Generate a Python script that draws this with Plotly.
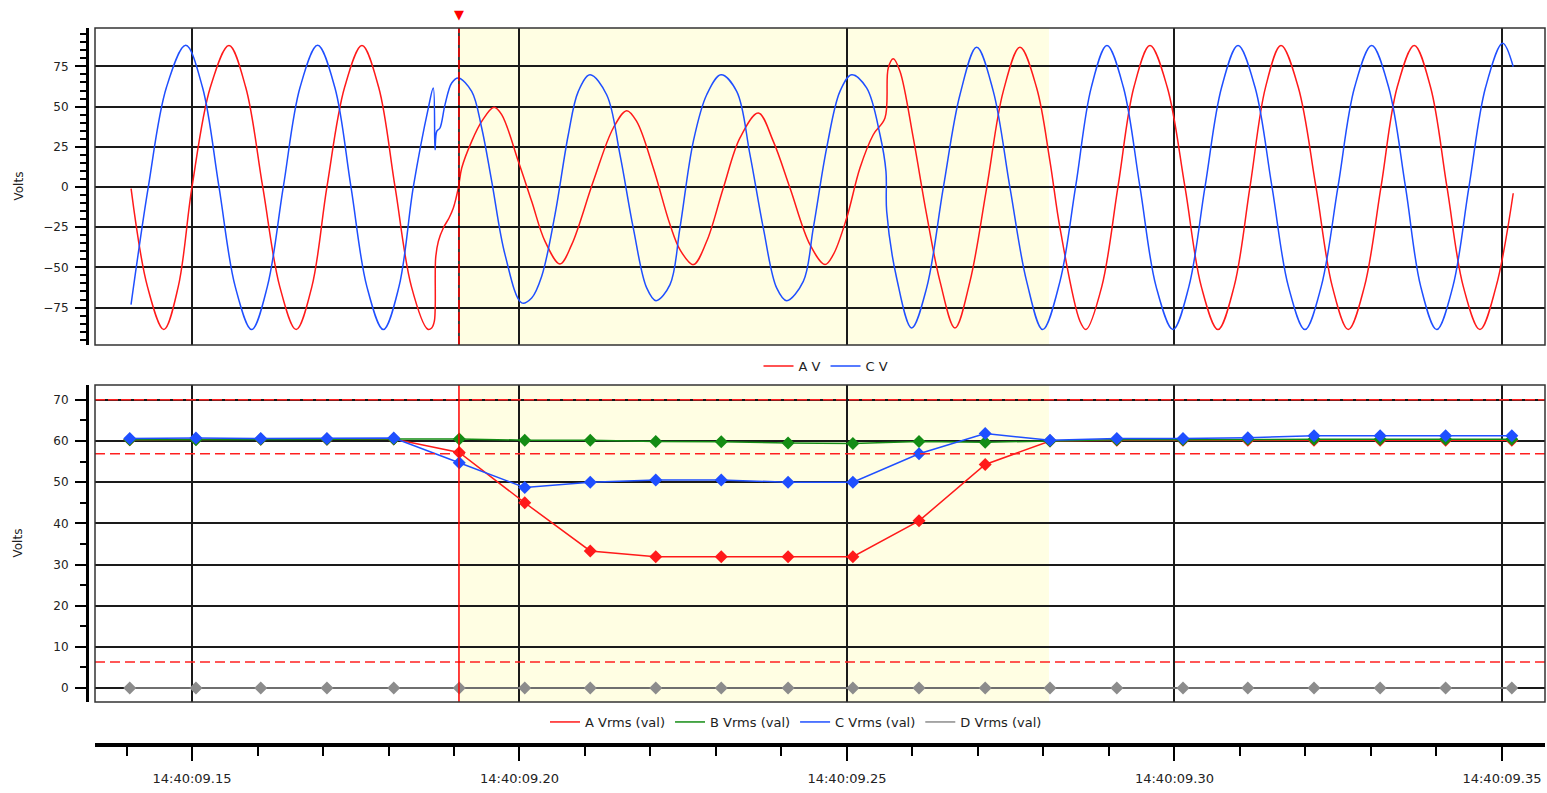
import numpy as np
import pandas as pd
import plotly.graph_objects as go

# ---------------- data (time in ms after 14:40:09.000) ----------------
av_t = [140.7, 143.2, 145.7, 147.9, 150.0, 152.8, 155.65, 158.2, 160.8, 163.4, 165.9, 168.3,
        170.6, 173.3, 175.95, 178.5, 181.0, 183.5, 186.0, 186.59, 187.0, 187.2, 187.61, 188.37,
        189.24, 189.9, 190.66, 191.18, 192.7, 194.23, 196.11, 197.28, 199.82, 201.86, 203.9,
        206.18, 207.97, 211.27, 214.32, 216.37, 217.89, 220.43, 222.98, 224.5, 226.54, 228.58,
        231.12, 233.66, 236.46, 238.75, 241.3, 244.35, 246.64, 247.91, 249.95, 251.98, 254.01,
        255.8, 256.3, 257.07, 258.09, 260.12, 262.16, 264.2, 266.49, 268.78, 271.33, 273.86,
        276.41, 278.96, 280.99, 282.52, 285.57, 286.49, 288.9, 291.37, 293.8, 296.26, 298.9,
        301.6, 304.1, 306.64, 309.1, 311.53, 313.9, 316.26, 318.9, 321.6, 324.1, 326.54, 329.0,
        331.53, 334.0, 336.61, 339.1, 341.6, 344.1, 346.64, 349.1, 351.72]
av_v = [-1.0, -62.0, -88.7, -62.0, 0.0, 62.0, 88.0, 62.0, 0.0, -62.0, -88.7, -62.0,
        0.0, 62.0, 88.0, 62.0, 0.0, -62.0, -88.5, -87.7, -83.5, -44.2, -33.8, -25.5,
        -19.3, -13.1, -0.6, 11.8, 28.4, 40.8, 49.6, 45.0, 16.0, -8.9, -33.8,
        -47.9, -35.9, 3.5, 36.7, 47.5, 40.8, 11.8, -23.4, -39.0, -48.3, -33.8,
        -0.6, 30.5, 46.0, 28.4, -0.6, -35.9, -48.3, -42.1, -19.3, 11.8, 32.5,
        42.9, 74.0, 79.8, 72.0, 30.5, -17.2, -58.7, -87.7, -58.7, -0.6, 59.5,
        86.9, 61.6, 16.0, -25.5, -83.5, -88.7, -62.0, 0.0, 62.0, 88.0, 62.0,
        0.0, -62.0, -88.7, -62.0, 0.0, 62.0, 88.0, 62.0, 0.0, -62.0, -88.7, -62.0,
        0.0, 62.0, 88.0, 62.0, 0.0, -62.0, -88.7, -62.0, -3.9]

cv_t = [140.69, 143.33, 146.1, 149.04, 151.6, 154.12, 156.6, 159.11, 161.5, 163.94, 166.5,
        169.18, 171.8, 174.27, 176.7, 179.21, 181.6, 183.79, 186.08, 186.84, 187.1, 187.36,
        187.86, 188.63, 189.65, 190.66, 192.7, 194.23, 195.76, 197.79, 200.34, 201.86, 203.39,
        205.42, 207.45, 208.98, 210.76, 213.31, 215.34, 217.37, 219.42, 220.84, 222.98, 224.5,
        226.54, 228.58, 230.76, 233.16, 235.19, 237.22, 239.26, 240.79, 243.33, 244.86, 246.9,
        248.93, 250.71, 253.0, 255.04, 255.95, 256.06, 257.58, 259.87, 262.16, 264.7, 267.25,
        269.8, 272.34, 274.89, 277.43, 279.88, 282.52, 284.9, 287.3, 289.69, 292.2, 294.73,
        297.2, 299.77, 302.2, 304.66, 307.2, 309.7, 312.3, 314.89, 317.4, 319.92, 322.4, 324.96,
        327.5, 330.11, 332.7, 335.27, 337.6, 340.03, 342.5, 344.96, 347.5, 350.11, 351.72]
cv_v = [-73.2, 0.0, 62.0, 88.1, 62.0, 0.0, -62.0, -88.7, -62.0, 0.0, 62.0,
        88.1, 62.0, 0.0, -62.0, -88.7, -62.0, 0.0, 49.1, 61.6, 23.2, 34.6,
        36.7, 51.2, 64.7, 67.8, 59.5, 36.7, 3.5, -42.1, -72.1, -69.0, -55.5,
        -17.2, 32.5, 59.5, 69.8, 57.4, 20.1, -25.5, -62.8, -70.7, -60.7, -25.5,
        28.4, 57.4, 69.8, 59.5, 20.1, -25.5, -62.8, -70.7, -58.7, -25.5, 24.3,
        59.5, 69.8, 61.6, 32.5, 9.8, -15.1, -56.6, -87.7, -62.8, -0.6, 57.4,
        86.9, 59.5, -0.6, -58.7, -88.7, -58.7, 0.0, 62.0, 88.0, 62.0, 0.0,
        -62.0, -88.7, -62.0, 0.0, 62.0, 88.0, 62.0, 0.0, -62.0, -88.7, -62.0, 0.0,
        62.0, 88.0, 62.0, 0.0, -62.0, -88.7, -62.0, 0.0, 62.0, 89.4, 74.8]

rms_t = [140.5, 150.6, 160.5, 170.6, 180.8, 190.8, 200.8, 210.8, 220.8, 230.8, 241.0,
         250.9, 261.0, 271.1, 281.0, 291.2, 301.3, 311.2, 321.3, 331.4, 341.4, 351.5]
a_rms = [60.3, 60.4, 60.4, 60.4, 60.5, 57.2, 45.0, 33.3, 31.9, 31.9, 31.9,
         31.9, 40.6, 54.3, 60.0, 60.2, 60.2, 60.2, 60.2, 60.2, 60.2, 60.2]
b_rms = [60.3, 60.3, 60.4, 60.4, 60.5, 60.5, 60.2, 60.2, 59.9, 59.8, 59.5,
         59.4, 59.9, 59.7, 60.0, 60.3, 60.3, 60.4, 60.4, 60.4, 60.4, 60.4]
c_rms = [60.6, 60.7, 60.6, 60.6, 60.7, 54.7, 48.7, 50.0, 50.5, 50.5, 50.0,
         50.0, 56.9, 61.8, 60.2, 60.6, 60.6, 60.8, 61.3, 61.3, 61.3, 61.3]
d_rms = [0.0] * 22

limit_lines = [70.0, 56.9, 6.3]
event_start_ms = 190.76
event_end_ms = 280.84
x_range_ms = [135.19, 356.57]

tick_ms = [150, 200, 250, 300, 350]
tick_labels = ["14:40:09.15", "14:40:09.20", "14:40:09.25", "14:40:09.30", "14:40:09.35"]

# ---------------- helpers ----------------
BASE = pd.Timestamp("2024-01-01 14:40:09")


def ts(ms):
    return BASE + pd.to_timedelta(np.asarray(ms, dtype=float), unit="ms")


def tstr(ms):
    return (BASE + pd.to_timedelta(float(ms), unit="ms")).strftime("%Y-%m-%d %H:%M:%S.%f")


W, H = 1547, 793
xdom = [95 / W, 1545 / W]
ydom_top = [1 - 345 / H, 1 - 28 / H]
ydom_bot = [1 - 702 / H, 1 - 385 / H]
GRID = "#1a1a1a"
FONT = dict(family="DejaVu Sans", size=12, color="#222222")
FONT13 = dict(family="DejaVu Sans", size=13, color="#222222")

fig = go.Figure()

# top waveforms
fig.add_trace(go.Scatter(x=ts(av_t), y=av_v, mode="lines", line=dict(color="#ff1a1a", width=1.5, shape="spline", smoothing=1.0),
                         xaxis="x", yaxis="y", showlegend=False, hoverinfo="skip"))
fig.add_trace(go.Scatter(x=ts(cv_t), y=cv_v, mode="lines", line=dict(color="#1f4fff", width=1.5, shape="spline", smoothing=1.0),
                         xaxis="x", yaxis="y", showlegend=False, hoverinfo="skip"))

# bottom rms
rms_series = [("D Vrms (val)", d_rms, "#8c8c8c"), ("A Vrms (val)", a_rms, "#ff1a1a"),
              ("B Vrms (val)", b_rms, "#148c14"), ("C Vrms (val)", c_rms, "#1f4fff")]
for name, vals, col in rms_series:
    fig.add_trace(go.Scatter(x=ts(rms_t), y=vals, mode="lines+markers", name=name,
                             line=dict(color=col, width=1.5),
                             marker=dict(symbol="diamond", size=10, color=col),
                             xaxis="x2", yaxis="y2", showlegend=False, hoverinfo="skip"))

# legend entries
for name, col in [("A V", "#ff1a1a"), ("C V", "#1f4fff")]:
    fig.add_trace(go.Scatter(x=[None], y=[None], mode="lines", name=name, line=dict(color=col, width=1.5),
                             xaxis="x", yaxis="y", legend="legend"))
for name, col in [("A Vrms (val)", "#ff1a1a"), ("B Vrms (val)", "#148c14"),
                  ("C Vrms (val)", "#1f4fff"), ("D Vrms (val)", "#8c8c8c")]:
    fig.add_trace(go.Scatter(x=[None], y=[None], mode="lines", name=name, line=dict(color=col, width=1.5),
                             xaxis="x2", yaxis="y2", legend="legend2"))

shapes = []
# event shading
for xr_, yr in [("x", "y domain"), ("x2", "y2 domain")]:
    shapes.append(dict(type="rect", xref=xr_, yref=yr, x0=tstr(event_start_ms), x1=tstr(event_end_ms),
                       y0=0, y1=1, fillcolor="#fffee3", line=dict(width=0), layer="below"))
# limit lines
for v in limit_lines:
    shapes.append(dict(type="line", xref="x2 domain", yref="y2", x0=0, x1=1, y0=v, y1=v,
                       line=dict(color="#ff2020", width=1.5, dash="10px,3px" if v >= 70 else "10px,5px")))
# cursor lines
shapes.append(dict(type="line", xref="x", yref="y domain", x0=tstr(event_start_ms), x1=tstr(event_start_ms),
                   y0=0, y1=1, line=dict(color="#000000", width=1.5)))
shapes.append(dict(type="line", xref="x", yref="y domain", x0=tstr(event_start_ms), x1=tstr(event_start_ms),
                   y0=0, y1=1, line=dict(color="#ff0000", width=1.5, dash="9px,3px")))
shapes.append(dict(type="line", xref="x2", yref="y2 domain", x0=tstr(event_start_ms), x1=tstr(event_start_ms),
                   y0=0, y1=1, line=dict(color="#ff0000", width=1.5)))
# frames
for xr_, yr in [("x domain", "y domain"), ("x2 domain", "y2 domain")]:
    shapes.append(dict(type="rect", xref=xr_, yref=yr, x0=0, x1=1, y0=0, y1=1,
                       line=dict(color="#333333", width=1.5), fillcolor="rgba(0,0,0,0)", layer="above"))

xr = [tstr(x_range_ms[0]), tstr(x_range_ms[1])]
common_x = dict(type="date", range=xr, domain=xdom, tickmode="array",
                tickvals=[tstr(m) for m in tick_ms], ticktext=tick_labels,
                showgrid=True, gridcolor=GRID, gridwidth=1.5, zeroline=False)
yax_common = dict(anchor="free", position=87 / W, showline=True, linewidth=3, linecolor="#000",
                  ticks="outside", ticklen=11, tickwidth=1.5, tickcolor="#000",
                  showgrid=True, gridcolor=GRID, gridwidth=1.5, zeroline=False,
                  tickfont=FONT, ticklabelstandoff=4)

fig.update_layout(
    width=W, height=H, margin=dict(l=0, r=0, t=0, b=0),
    paper_bgcolor="white", plot_bgcolor="white", font=FONT,
    xaxis=dict(**common_x, anchor="y", showticklabels=False, ticks="", showline=False),
    yaxis=dict(**yax_common, domain=ydom_top, range=[-98.3, 98.9], dtick=25, tick0=0,
               minor=dict(dtick=5, tick0=0, ticks="outside", ticklen=6, tickwidth=1.5, tickcolor="#000", showgrid=False)),
    xaxis2=dict(**common_x, anchor="free", position=48 / H,
                showline=True, linewidth=4, linecolor="#000", ticks="outside", ticklen=14, tickwidth=2,
                tickcolor="#000", tickfont=FONT13, ticklabelstandoff=6,
                minor=dict(tickmode="linear", dtick=10, tick0=tstr(0), ticks="outside", ticklen=9, tickwidth=2,
                           tickcolor="#000", showgrid=False)),
    yaxis2=dict(**yax_common, domain=ydom_bot, range=[-3.4, 73.6], dtick=10, tick0=0,
                minor=dict(dtick=5, tick0=0, ticks="outside", ticklen=6, tickwidth=1.5, tickcolor="#000", showgrid=False)),
    shapes=shapes,
    legend=dict(orientation="h", x=826 / W, y=1 - 366 / H, xanchor="center", yanchor="middle",
                bgcolor="rgba(0,0,0,0)", font=FONT13, itemwidth=30),
    legend2=dict(orientation="h", x=796 / W, y=1 - 722 / H, xanchor="center", yanchor="middle",
                 bgcolor="rgba(0,0,0,0)", font=FONT13, itemwidth=30),
    annotations=[
        dict(text="Volts", x=18 / W, y=sum(ydom_top) / 2, xref="paper", yref="paper", showarrow=False,
             textangle=-90, font=FONT, xanchor="center", yanchor="middle"),
        dict(text="Volts", x=18 / W, y=sum(ydom_bot) / 2, xref="paper", yref="paper", showarrow=False,
             textangle=-90, font=FONT, xanchor="center", yanchor="middle"),
        # event cursor marker
        dict(text="▼", x=tstr(event_start_ms), xref="x", y=1 - 14 / H, yref="paper", showarrow=False,
             font=dict(family="DejaVu Sans", size=13, color="#ff0000"), xanchor="center", yanchor="middle"),
    ],
)

fig.write_html("out.html")
